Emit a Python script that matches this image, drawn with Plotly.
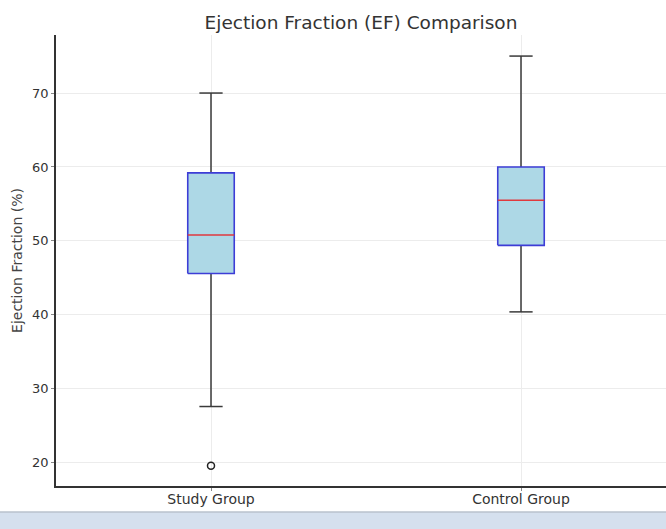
import plotly.graph_objects as go

# ---- data ----
groups = ["Study Group", "Control Group"]
lower_whisker = [27.6, 40.4]
q1 = [45.6, 49.4]
median = [50.8, 55.5]
q3 = [59.2, 60.0]
upper_whisker = [70.0, 75.0]
outlier_group = ["Study Group"]
outlier_values = [19.6]

y_ticks = [20, 30, 40, 50, 60, 70]

BOX_W = 0.15
CAP_W = 0.075

fig = go.Figure()
pos = {g: i + 1 for i, g in enumerate(groups)}

for i, g in enumerate(groups):
    p = pos[g]
    # whiskers
    fig.add_trace(go.Scatter(
        x=[p, p, None, p, p, None,
           p - CAP_W / 2, p + CAP_W / 2, None, p - CAP_W / 2, p + CAP_W / 2],
        y=[lower_whisker[i], q1[i], None, q3[i], upper_whisker[i], None,
           lower_whisker[i], lower_whisker[i], None, upper_whisker[i], upper_whisker[i]],
        mode="lines", line=dict(color="#3a3a3a", width=1.5),
        hoverinfo="skip", showlegend=False))
    # box
    fig.add_trace(go.Scatter(
        x=[p - BOX_W / 2, p + BOX_W / 2, p + BOX_W / 2, p - BOX_W / 2, p - BOX_W / 2],
        y=[q1[i], q1[i], q3[i], q3[i], q1[i]],
        mode="lines", fill="toself", fillcolor="#add8e6",
        line=dict(color="#3d3dd6", width=1.6),
        hoverinfo="skip", showlegend=False))
    # median
    fig.add_trace(go.Scatter(
        x=[p - BOX_W / 2, p + BOX_W / 2], y=[median[i], median[i]],
        mode="lines", line=dict(color="#e0393e", width=1.5),
        hoverinfo="skip", showlegend=False))

fig.add_trace(go.Scatter(
    x=[pos[g] for g in outlier_group], y=outlier_values,
    mode="markers",
    marker=dict(symbol="circle-open", size=7, color="#222222", line=dict(width=1.5)),
    showlegend=False))

W, H = 666, 529
ml, mr, mt, mb = 56, 0, 35, 43
plot_h = H - mt - mb
plot_w = W - ml - mr


def py(pix):
    return (H - mb - pix) / plot_h


fig.update_layout(
    width=W, height=H,
    margin=dict(l=ml, r=mr, t=mt, b=mb),
    paper_bgcolor="white", plot_bgcolor="white",
    font=dict(family="DejaVu Sans", size=13, color="#333333"),
    title=dict(text="Ejection Fraction (EF) Comparison", x=0.5, xref="paper",
               y=1 - 23 / H, yanchor="middle",
               font=dict(size=18.5, color="#333333")),
    xaxis=dict(range=[0.5, 0.5 + 610 / 310], tickvals=[1, 2], ticktext=groups,
               showgrid=True, gridcolor="#ececec", gridwidth=1,
               showline=True, linecolor="#333333", linewidth=1.5,
               ticks="outside", ticklen=3, tickcolor="#888888",
               ticklabelstandoff=-4,
               tickfont=dict(size=14), zeroline=False),
    yaxis=dict(range=[16.85, 77.85], tickvals=y_ticks,
               title=dict(text="Ejection Fraction (%)", standoff=6,
                          font=dict(size=14, color="#444444")),
               showgrid=True, gridcolor="#ececec", gridwidth=1,
               showline=True, linecolor="#333333", linewidth=1.5,
               ticks="outside", ticklen=3, tickcolor="#888888",
               tickfont=dict(size=13), zeroline=False),
    shapes=[
        dict(type="rect", xref="paper", yref="paper",
             x0=-ml / plot_w, x1=1.0, y0=py(H), y1=py(512),
             fillcolor="#d5e0ee", line=dict(width=0), layer="above"),
        dict(type="line", xref="paper", yref="paper",
             x0=-ml / plot_w, x1=1.0, y0=py(512), y1=py(512),
             line=dict(color="#b8c2cc", width=1.5), layer="above"),
    ],
)

fig.write_html(
    "out.html",
    config={"displayModeBar": False},
    post_script="document.body.style.margin='0';document.body.style.overflow='hidden';",
)
